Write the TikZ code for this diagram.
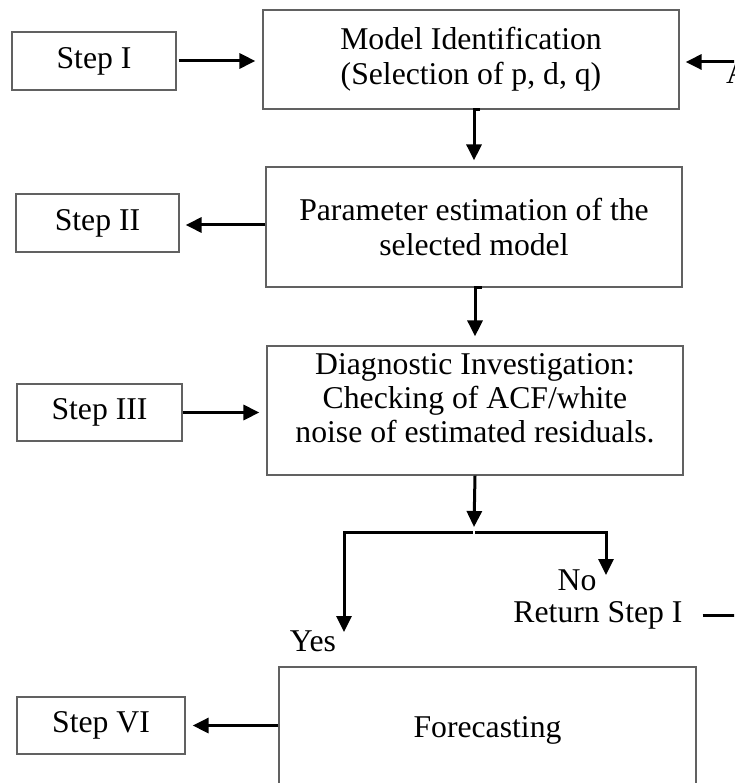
\documentclass[tikz,border=0pt]{standalone}
\usepackage{fontspec}
\setmainfont{Liberation Serif}
\usetikzlibrary{arrows.meta}
\begin{document}
\begin{tikzpicture}[x=1pt,y=-1pt,
  txt/.style={font=\fontsize{31.7pt}{35pt}\selectfont},
  box/.style={txt,draw=black!62,line width=1.2pt,align=center,inner sep=0pt},
  conn/.style={line width=3pt,line join=miter,-{Triangle[length=16pt,width=15pt]}},
  lbl/.style={txt,inner sep=0pt}]
\useasboundingbox (0,0) rectangle (734,783);
\clip (0,0) rectangle (734,783);
\fill[white] (0,0) rectangle (734,783);
% boxes
\node[box,minimum width=164pt,minimum height=58pt] (s1) at (94,61) {Step I};
\node[box,minimum width=416pt,minimum height=99pt] (m) at (471,59.5) {Model Identification\\(Selection of p, d, q)};
\node[box,minimum width=163pt,minimum height=58pt] (s2) at (97.5,223) {Step II};
\node[box,minimum width=416pt,minimum height=120pt] (p) at (474,227) {Parameter estimation of the\\selected model};
\node[box,minimum width=165pt,minimum height=57pt] (s3) at (99.5,412.5) {Step III};
\node[box,minimum width=416pt,minimum height=129pt,text depth=24pt,font=\fontsize{31.7pt}{34pt}\selectfont] (d) at (475,410.5) {Diagnostic Investigation:\\Checking of ACF/white\\noise of estimated residuals.};
\node[box,minimum width=417pt,minimum height=126pt] (f) at (487.5,730) {Forecasting};
\node[box,minimum width=168pt,minimum height=57pt] (s6) at (101,725.5) {Step VI};
% labels
\node[lbl] (no) at (577,580) {No};
\node[lbl] (ret) at (598,615) {Return Step I};
\node[lbl] (yes) at (313,641) {Yes};
\node[lbl,anchor=base west] (a) at (726,84) {A};
% coordinates
\coordinate (sp) at (474,532);
\coordinate (yesend) at (344,632);
\coordinate (noend) at (606,575);
\coordinate (back) at (760,62);
\coordinate (pw) at ([yshift=2pt]p.west);
% connectors
\draw[conn,shorten <=2pt,shorten >=7pt] (s1.east) -- (m.west |- s1.east);
\draw[conn] ([xshift=9pt]m.south) -| ([yshift=6pt]p.north);
\draw[conn,shorten >=6pt] (pw) -- (s2.east |- pw);
\draw[conn] ([xshift=8pt]p.south) -| ([yshift=9pt]d.north);
\draw[conn,shorten >=7pt] (s3.east) -- (d.west |- s3.east);
\draw[conn] (d.south) -- ([yshift=5pt]sp);
\draw[conn] ([xshift=-1pt]sp) -| (yesend);
\draw[conn] ([xshift=1pt]sp) -| (noend);
\draw[conn,shorten >=6pt] ([xshift=20pt]ret.east) -| (back) -- (m.east |- back);
\draw[conn,shorten >=7pt] (f.west |- s6.east) -- (s6.east);
\end{tikzpicture}
\end{document}
